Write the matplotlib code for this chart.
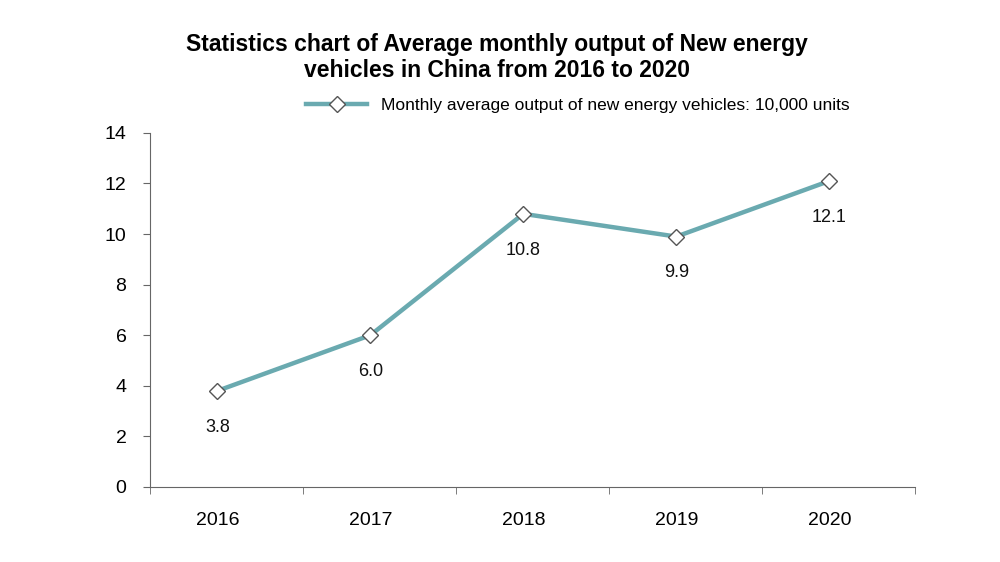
import matplotlib
matplotlib.use("Agg")
import matplotlib.pyplot as plt
import numpy as np

years = ["2016", "2017", "2018", "2019", "2020"]
values = [3.8, 6.0, 10.8, 9.9, 12.1]
labels = ["3.8", "6.0", "10.8", "9.9", "12.1"]
series_name = "Monthly average output of new energy vehicles: 10,000 units"
title = "Statistics chart of Average monthly output of New energy\nvehicles in China from 2016 to 2020"

plt.rcParams['font.family'] = ['Liberation Sans', 'DejaVu Sans']
fig = plt.figure(figsize=(10, 5.62), dpi=100)
ax = fig.add_axes([0.15, 0.1335, 0.765, 0.63])
x = np.arange(len(years))
ax.plot(x, values, color="#6aaab0", lw=3.2, marker="D", ms=8,
        mfc="white", mec="#555555", mew=1, label=series_name, zorder=3)
for xi, v, t in zip(x, values, labels):
    ax.annotate(t, (xi, v), xytext=(0, -20), textcoords="offset points",
                ha="center", va="top", fontsize=13, color="#111111")
ax.set_xlim(-0.44, 4.56)
ax.set_ylim(0, 14)
ax.set_yticks(range(0, 15, 2))
ax.set_xticks(x)
ax.set_xticklabels(years)
ax.set_xticks(np.arange(-0.44, 4.6, 1.0), minor=True)
ax.tick_params(axis="x", which="major", length=0, pad=18, labelsize=14)
ax.tick_params(axis="x", which="minor", length=5, direction="out", color="#666666")
ax.tick_params(axis="y", length=5, direction="out", labelsize=14, pad=12, color="#666666")
for s in ["top", "right"]:
    ax.spines[s].set_visible(False)
for s in ["left", "bottom"]:
    ax.spines[s].set_color("#666666")
fig.text(0.497, 0.898, title, ha="center", va="center", fontsize=16.5, fontweight="bold")
fig.legend(loc="center", bbox_to_anchor=(0.578, 0.813), frameon=False, fontsize=12.5,
           handlelength=3.5)
fig.savefig("out.png", dpi=100, facecolor="white")
